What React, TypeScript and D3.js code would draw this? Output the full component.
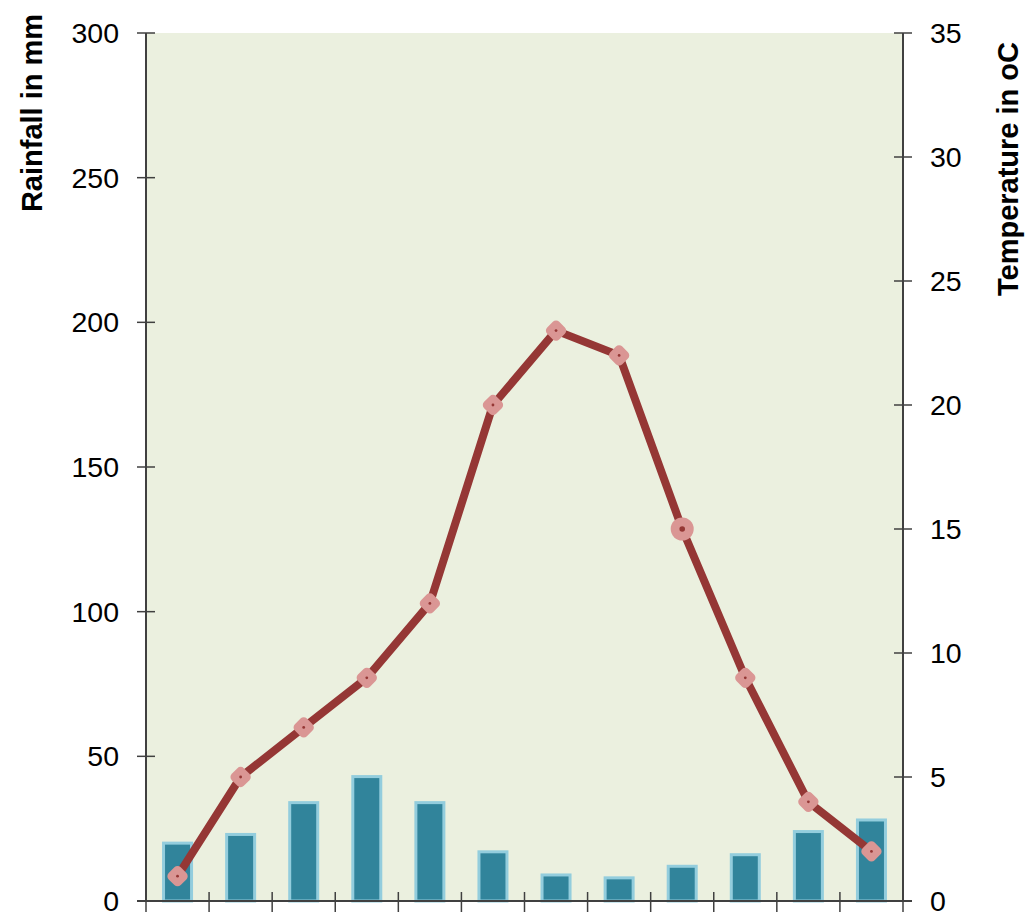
import React from "react";
import * as d3 from "d3";

const months = ["1", "2", "3", "4", "5", "6", "7", "8", "9", "10", "11", "12"];
const rainfall = [20, 23, 34, 43, 34, 17, 9, 8, 12, 16, 24, 28];
const temperature = [1, 5, 7, 9, 12, 20, 23, 22, 15, 9, 4, 2];
const rainTicks = [0, 50, 100, 150, 200, 250, 300];
const tempTicks = [0, 5, 10, 15, 20, 25, 30, 35];

const W = 1034, H = 912;
const left = 146, right = 903, top = 33, bottom = 901;

export default function App() {
  const x = d3.scaleBand<string>().domain(months).range([left, right]).paddingInner(0).paddingOuter(0);
  const yR = d3.scaleLinear().domain([0, 300]).range([bottom, top]);
  const yT = d3.scaleLinear().domain([0, 35]).range([bottom, top]);
  const bw = 28;
  const line = d3.line<number>().x((_, i) => x(months[i])! + x.bandwidth() / 2).y((d) => yT(d));
  const font = "'Liberation Sans', Arial, sans-serif";
  const boundaries = d3.range(months.length + 1).map((i) => left + i * x.bandwidth());
  return (
    <svg width={W} height={H} style={{ position: "absolute", left: 0, top: 0 }} fontFamily={font}>
      <rect x={left} y={top} width={right - left} height={bottom - top} fill="#EBF0DF" />
      {rainfall.map((v, i) => (
        <rect key={i} x={x(months[i])! + x.bandwidth() / 2 - bw / 2} y={yR(v)} width={bw} height={bottom - yR(v)}
          fill="#31849B" stroke="#93CDDD" strokeWidth={3} />
      ))}
      <path d={line(temperature) || ""} fill="none" stroke="#953735" strokeWidth={8} strokeLinejoin="round" />
      {temperature.map((v, i) => {
        const cx = x(months[i])! + x.bandwidth() / 2, cy = yT(v);
        return (
          <g key={i}>
            {i === 8 ? (
              <circle cx={cx} cy={cy} r={11.5} fill="#DA9694" />
            ) : (
              <rect x={cx - 8.5} y={cy - 8.5} width={17} height={17} rx={4.5} fill="#DA9694"
                transform={`rotate(45 ${cx} ${cy})`} />
            )}
            <circle cx={cx} cy={cy} r={i === 8 ? 2.8 : 1.4} fill="#953735" />
          </g>
        );
      })}
      {/* axes */}
      <line x1={left} x2={left} y1={top} y2={bottom} stroke="#404040" strokeWidth={2} />
      <line x1={right} x2={right} y1={top} y2={bottom} stroke="#404040" strokeWidth={2} />
      <line x1={left - 9} x2={right + 9} y1={bottom} y2={bottom} stroke="#404040" strokeWidth={2} />
      {rainTicks.map((t) => (
        <g key={"r" + t}>
          <line x1={left - 9} x2={left + 9} y1={yR(t)} y2={yR(t)} stroke="#404040" strokeWidth={1.5} />
          <text x={119} y={yR(t)} textAnchor="end" dominantBaseline="central" fontSize={28.5} fill="#000">{t}</text>
        </g>
      ))}
      {tempTicks.map((t) => (
        <g key={"t" + t}>
          <line x1={right - 9} x2={right + 9} y1={yT(t)} y2={yT(t)} stroke="#404040" strokeWidth={1.5} />
          <text x={930} y={yT(t)} textAnchor="start" dominantBaseline="central" fontSize={28.5} fill="#000">{t}</text>
        </g>
      ))}
      {boundaries.map((b, i) => (
        <line key={"b" + i} x1={b} x2={b} y1={bottom - 9} y2={bottom + 11} stroke="#404040" strokeWidth={1.5} />
      ))}
      <text transform={`translate(42,113) rotate(-90)`} textAnchor="middle" fontSize={29} fontWeight="bold" fill="#000">Rainfall in mm</text>
      <text transform={`translate(1018,169) rotate(-90)`} textAnchor="middle" fontSize={29} fontWeight="bold" fill="#000">Temperature in oC</text>
    </svg>
  );
}
